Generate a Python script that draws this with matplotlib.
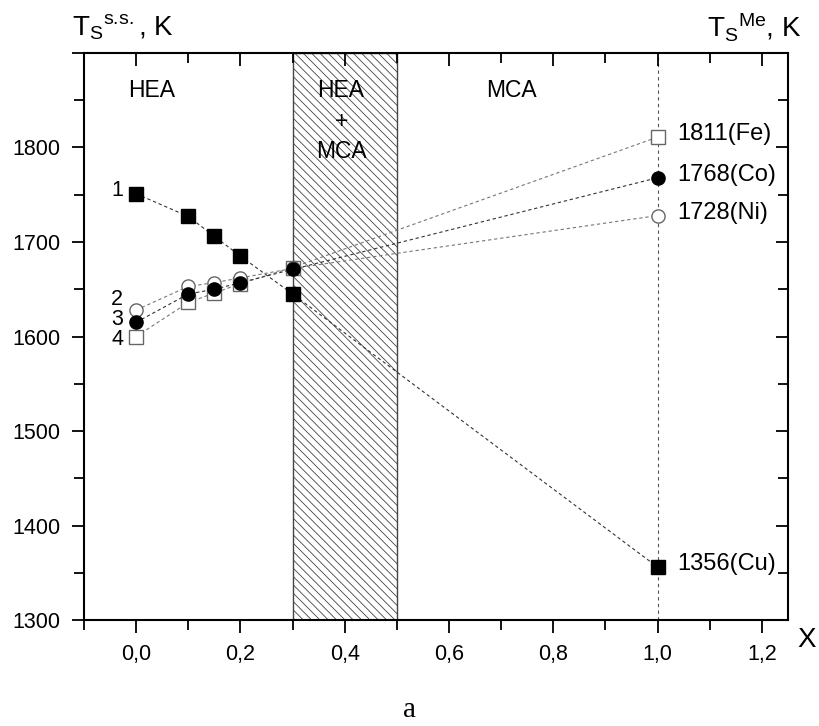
import numpy as np
import matplotlib.pyplot as plt
from matplotlib.ticker import MultipleLocator, FuncFormatter

plt.rcParams['font.family'] = ['Liberation Sans', 'DejaVu Sans']
plt.rcParams['mathtext.fontset'] = 'custom'
plt.rcParams['mathtext.rm'] = 'Liberation Sans'
plt.rcParams['hatch.linewidth'] = 0.6

# Data
x = [0.0, 0.1, 0.15, 0.2, 0.3, 1.0]
ts_1 = [1751, 1727, 1706, 1685, 1645, 1356]
ts_2 = [1628, 1653, 1657, 1662, 1672, 1728]
ts_3 = [1615, 1645, 1650, 1657, 1671, 1768]
ts_4 = [1600, 1636, 1646, 1656, 1673, 1811]
metal_labels = ["1356(Cu)", "1728(Ni)", "1768(Co)", "1811(Fe)"]
metal_values = [1356, 1728, 1768, 1811]
curve_labels = ["1", "2", "3", "4"]

fig = plt.figure(figsize=(8.19, 7.26), dpi=100)
ax = fig.add_axes([0.1026, 0.146, 0.8595, 0.781])

# Hatched two-phase region
ax.axvspan(0.3, 0.5, facecolor="white", edgecolor="#444444", hatch="\\\\\\\\",
           linewidth=1.0, zorder=0)
ax.axvline(1.0, color="#555555", linestyle=(0, (3, 3)), linewidth=0.8, zorder=1)

dash = (0, (3, 2.5))
ax.plot(x, ts_1, linestyle=dash, color="#333333", lw=0.8, marker="s", ms=9.5,
        mfc="black", mec="black", zorder=3)
ax.plot(x, ts_4, linestyle=dash, color="#777777", lw=0.8, marker="s", ms=9.5,
        mfc="white", mec="#666666", mew=1.0, zorder=3)
ax.plot(x, ts_2, linestyle=dash, color="#777777", lw=0.8, marker="o", ms=9.5,
        mfc="white", mec="#666666", mew=1.0, zorder=4)
ax.plot(x, ts_3, linestyle=dash, color="#333333", lw=0.8, marker="o", ms=9.5,
        mfc="black", mec="black", zorder=4)

# Labels next to metal points
for lab, val in zip(metal_labels, metal_values):
    ax.text(1.038, val + 3, lab, fontsize=17, va="center", ha="left")

# Curve numbers
curve_y = [1755, 1639, 1618, 1597]
for lab, yy in zip(curve_labels, curve_y):
    ax.text(-0.025, yy, lab, fontsize=15.5, va="center", ha="right")

# Region labels
ax.text(0.029, 1860, "HEA", fontsize=16.5, ha="center", va="center")
ax.text(0.393, 1860, "HEA", fontsize=16.5, ha="center", va="center")
ax.text(0.393, 1828, "+", fontsize=16.5, ha="center", va="center")
ax.text(0.393, 1796, "MCA", fontsize=16.5, ha="center", va="center")
ax.text(0.72, 1860, "MCA", fontsize=16.5, ha="center", va="center")

ax.set_xlim(-0.1, 1.25)
ax.set_ylim(1300, 1900)

ax.xaxis.set_major_locator(MultipleLocator(0.2))
ax.xaxis.set_minor_locator(MultipleLocator(0.1))
ax.yaxis.set_major_locator(MultipleLocator(100))
ax.yaxis.set_minor_locator(MultipleLocator(50))
ax.xaxis.set_major_formatter(FuncFormatter(lambda v, p: f"{v:.1f}".replace(".", ",")))
ax.yaxis.set_major_formatter(FuncFormatter(lambda v, p: "" if v >= 1900 else f"{v:.0f}"))

ax.tick_params(which="both", direction="out", labelsize=15.5, width=1.3)
ax.tick_params(which="major", length=9, pad=8)
ax.tick_params(which="minor", length=7)
ax.tick_params(which="both", top=True, right=True)

for s in ax.spines.values():
    s.set_linewidth(1.5)

# inward ticks on top and right
for t in ax.xaxis.get_major_ticks() + ax.xaxis.get_minor_ticks():
    t.tick2line.set_marker(3)  # TICKDOWN
for t in ax.yaxis.get_major_ticks() + ax.yaxis.get_minor_ticks():
    t.tick2line.set_marker(0)  # TICKLEFT

fig.text(0.088, 0.962, r"$\mathregular{T_S}$$\mathregular{^{s.\!s.}}$, K",
         fontsize=20, ha="left", va="center")
fig.text(0.978, 0.962, r"$\mathregular{T_S}$$\mathregular{^{Me}}$, K",
         fontsize=20, ha="right", va="center")
fig.text(0.985, 0.118, "X", fontsize=20, ha="center", va="center")
fig.text(0.5, 0.022, "a", fontsize=21, family="Liberation Serif",
         ha="center", va="center")

fig.savefig("out.png", dpi=100)
